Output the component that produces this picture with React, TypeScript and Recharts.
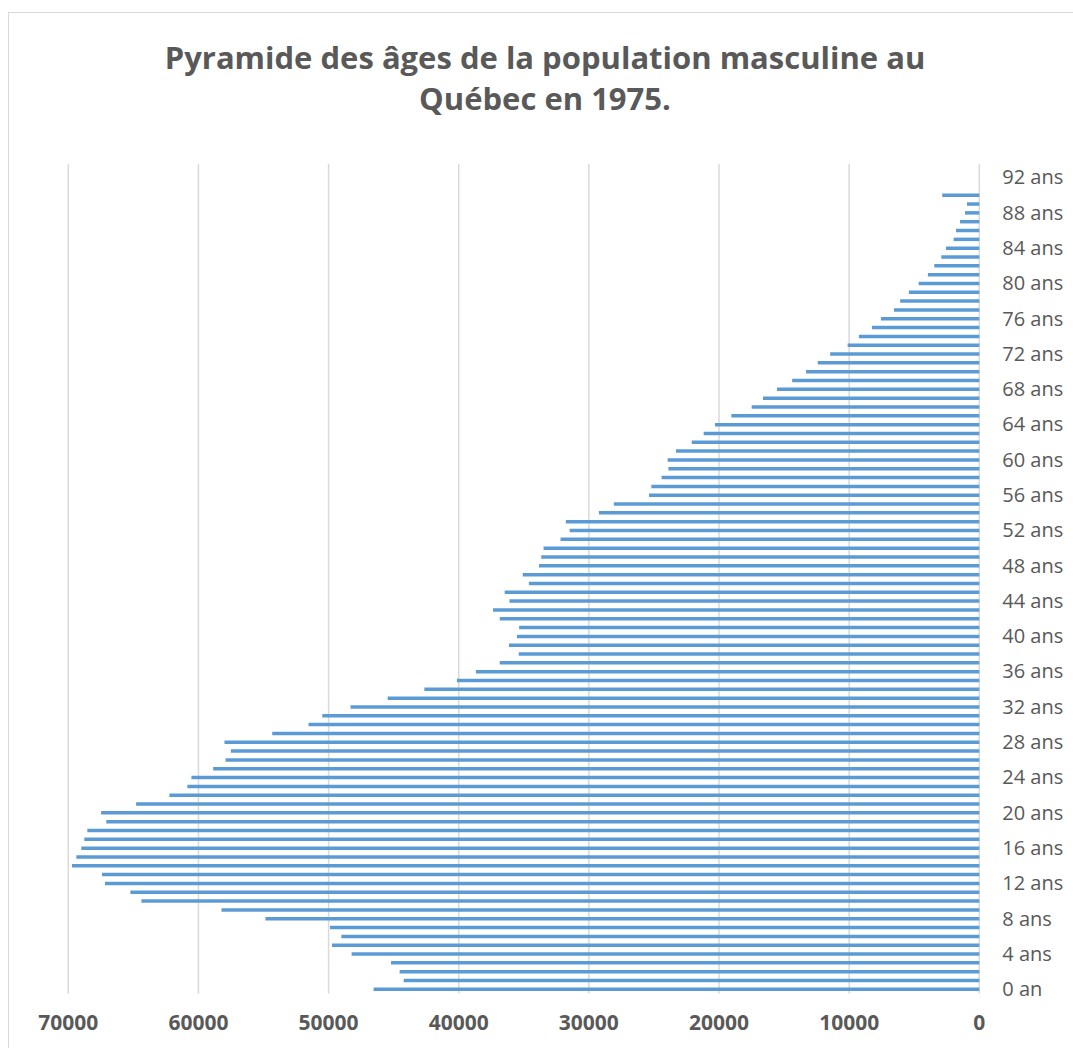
import { BarChart, Bar, XAxis, YAxis, CartesianGrid } from "recharts";

// Effectifs masculins par âge, Québec 1975
const AGES = Array.from({ length: 94 }, (_, i) => i);
const MEN = [
  46540, 44230, 44540, 45200, 48230, 49740, 49020, 49890, 54850, 58230,
  64380, 65230, 67180, 67410, 69720, 69380, 69000, 68770, 68540, 67080,
  67480, 64790, 62230, 60850, 60540, 58870, 57920, 57510, 58000, 54330,
  51540, 50480, 48310, 45460, 42640, 40140, 38680, 36850, 35390, 36140,
  35530, 35360, 36850, 37360, 36100, 36470, 34610, 35080, 33830, 33660,
  33480, 32180, 31480, 31770, 29230, 28080, 25380, 25200, 24410, 23890,
  23950, 23310, 22100, 21180, 20310, 19050, 17490, 16620, 15540, 14380,
  13310, 12410, 11460, 10120, 9250, 8250, 7560, 6560, 6080, 5410,
  4660, 3950, 3460, 2920, 2560, 1970, 1790, 1480, 1100, 950,
  2850, null, null, null,
];
const X_TICKS = [0, 10000, 20000, 30000, 40000, 50000, 60000, 70000];

const data = AGES.map((a, i) => ({
  age: a === 0 ? "0 an" : `${a} ans`,
  hommes: MEN[i],
}));

const GREY = "#595959";
const FONT = "'Open Sans', sans-serif";

export default function App() {
  return (
    <div
      style={{
        position: "fixed",
        left: 0,
        top: 0,
        width: 1073,
        height: 1048,
        overflow: "hidden",
        background: "#fff",
        fontFamily: FONT,
      }}
    >
      <div
        style={{
          position: "absolute",
          left: 8,
          top: 12,
          width: 1080,
          height: 1060,
          border: "1px solid #d9d9d9",
        }}
      />
      <div
        style={{
          position: "absolute",
          left: 0,
          top: 37,
          width: 1090,
          textAlign: "center",
          fontSize: 31,
          lineHeight: "41px",
          fontWeight: 700,
          color: GREY,
        }}
      >
        Pyramide des âges de la population masculine au
        <br />
        Québec en 1975.
      </div>
      <div style={{ position: "absolute", left: 0, top: 0 }}>
        <BarChart
          width={1073}
          height={1048}
          data={data}
          layout="vertical"
          barSize={3.5}
          margin={{ top: 164, right: 13.7, bottom: 14.6, left: 68.3 }}
        >
          <CartesianGrid vertical horizontal={false} stroke="#d9d9d9" strokeWidth={1.5} />
          <XAxis
            type="number"
            domain={[0, 70000]}
            ticks={X_TICKS}
            reversed
            axisLine={false}
            tickLine={false}
            tickMargin={16}
            height={40}
            tick={{ fontSize: 21, fontWeight: 700, fill: GREY, fontFamily: FONT }}
          />
          <YAxis
            type="category"
            dataKey="age"
            orientation="right"
            reversed
            interval={3}
            width={80}
            axisLine={false}
            tickLine={false}
            tickMargin={17}
            tick={{ fontSize: 20, fill: GREY, fontFamily: FONT, textAnchor: "start" }}
          />
          <Bar dataKey="hommes" fill="#5b9bd5" isAnimationActive={false} />
        </BarChart>
      </div>
    </div>
  );
}
